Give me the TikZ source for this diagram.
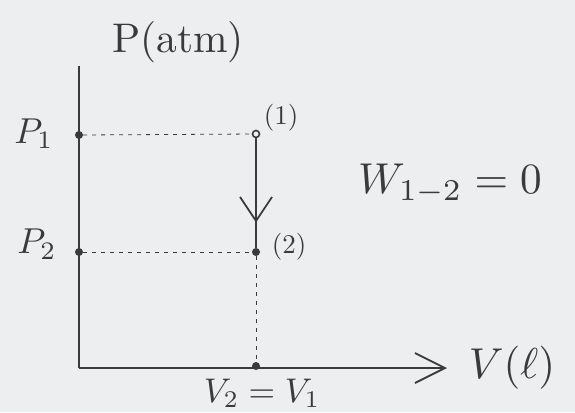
\documentclass[tikz,border=0pt]{standalone}
\usetikzlibrary{arrows.meta,decorations.markings}
\definecolor{pencil}{HTML}{3A3A3C}
\definecolor{paper}{HTML}{EDEEF0}
\begin{document}
\begin{tikzpicture}[x=1pt,y=-1pt,
  every node/.style={text=pencil,inner sep=1pt},
  axisline/.style={draw=pencil,line width=1.8pt},
  guide/.style={draw=pencil,line width=0.8pt,dash pattern=on 4pt off 5pt},
  dotpt/.style={circle,fill=pencil,minimum size=8pt,inner sep=0pt},
  lbl/.style={scale=3.6},
  small/.style={scale=2.7}]
\fill[paper] (0,0) rectangle (575,412);
\useasboundingbox (0,0) rectangle (575,412);
% axes
\coordinate (o) at (79,368);
\coordinate (ytop) at (79,66);
\coordinate (xend) at (447,368);
\draw[axisline] (ytop) -- (o);
\draw[axisline,-{Straight Barb[length=30pt,width=30pt,line width=1.8pt]}] (o) -- (xend);
% points
\node[dotpt] (a1) at (79,135) {};
\node[dotpt] (a2) at (79,252) {};
\node[dotpt,fill=none,draw=pencil,line width=1.6pt,minimum size=7pt] (p1) at (256,134) {};
\node[dotpt] (p2) at (256,252) {};
\node[dotpt] (v) at (256,366) {};
% guides
\draw[guide] (a1) -- (p1);
\draw[guide] (a2) -- (p2);
\draw[guide] (p2) -- (v);
% process line with mid arrow
\draw[axisline,postaction={decorate},decoration={markings,
  mark=at position 0.77 with {\arrow{Straight Barb[length=24pt,width=32pt,line width=1.8pt]}}}]
  (p1) -- (p2);
% labels
\node[lbl,scale=1.15] (ylab) at (178,42) {P(atm)};
\node[lbl] (lp1) at (34,134) {$P_1$};
\node[lbl] (lp2) at (37,244) {$P_2$};
\node[small] (l1) at (281,118) {(1)};
\node[small] (l2) at (289,247) {(2)};
\node[lbl,scale=1.2] (w) at (450,184) {$W_{1-2} = 0$};
\node[lbl,scale=1.2] (xlab) at (512,368) {$V(\ell)$};
\node[lbl,scale=0.95] (vv) at (262,393) {$V_2 = V_1$};
\end{tikzpicture}
\end{document}
